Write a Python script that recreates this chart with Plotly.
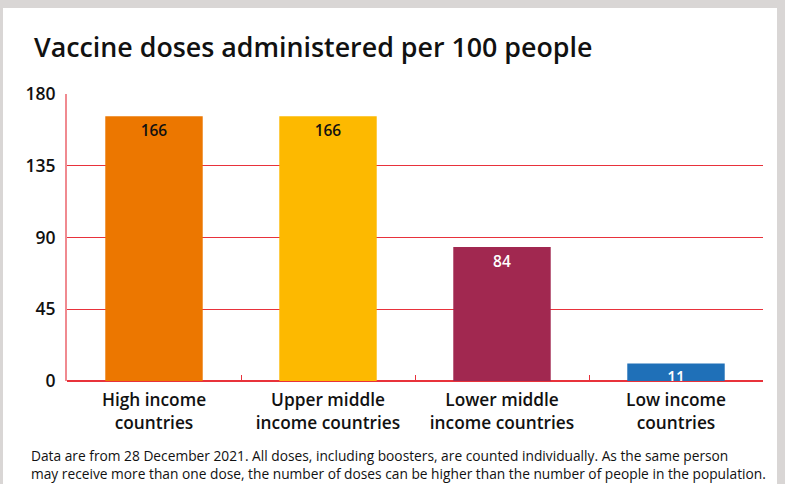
import plotly.graph_objects as go

categories = ["High income<br>countries", "Upper middle<br>income countries",
              "Lower middle<br>income countries", "Low income<br>countries"]
values = [166, 166, 84, 11]
colors = ["#EC7700", "#FDB900", "#A12850", "#1F70B8"]
label_colors = ["#111111", "#111111", "#FFFFFF", "#FFFFFF"]
y_ticks = [0, 45, 90, 135, 180]

title = "Vaccine doses administered per 100 people"
note = ("Data are from 28 December 2021. All doses, including boosters, are counted individually. As the same person<br>"
        "may receive more than one dose, the number of doses can be higher than the number of people in the population.")

RED = "#E8323B"
GRAY = "#D9D6D5"
FONT = "Open Sans"

L, R, T, B = 67, 22, 94, 103
PW, PH = 785 - L - R, 484 - T - B


def px(x):
    return (x - L) / PW


def py(y):
    return (484 - B - y) / PH


fig = go.Figure(go.Bar(
    x=categories, y=values, marker=dict(color=colors, line=dict(width=0)),
    text=[str(v) for v in values], textposition="inside", insidetextanchor="end",
    constraintext="none", textangle=0,
    textfont=dict(family=FONT, size=15.5, color=label_colors, weight=600),
    hoverinfo="skip", width=0.56,
))

strip = dict(type="rect", xref="paper", yref="paper", fillcolor=GRAY,
             line=dict(width=0), layer="above")
fig.update_layout(
    width=785, height=484,
    paper_bgcolor="white", plot_bgcolor="white",
    margin=dict(l=L, r=R, t=T, b=B),
    showlegend=False,
    font=dict(family=FONT, color="#111111"),
    shapes=[
        dict(strip, x0=px(0), x1=px(785), y0=py(0), y1=py(8)),
        dict(strip, x0=px(0), x1=px(3), y0=py(484), y1=py(0)),
        dict(strip, x0=px(777), x1=px(785), y0=py(484), y1=py(0)),
    ],
    annotations=[
        dict(text=title, xref="paper", yref="paper", x=px(32), y=py(46),
             xanchor="left", yanchor="middle", showarrow=False,
             font=dict(family=FONT, size=26.8, weight=600, color="#111111")),
        dict(text=note, xref="paper", yref="paper", x=px(29), y=py(464),
             xanchor="left", yanchor="middle", showarrow=False, align="left",
             font=dict(family=FONT, size=13.75, color="#111111")),
    ],
)

fig.update_xaxes(
    type="category", showline=False, showgrid=False, zeroline=False,
    ticks="inside", tickson="boundaries", ticklen=6, tickcolor=RED, tickwidth=1,
    ticklabelstandoff=7,
    tickfont=dict(family=FONT, size=17.3, weight=600, color="#111111"),
)
fig.update_yaxes(
    range=[0, 180], tickvals=y_ticks, showline=True, linecolor="#F08A90", linewidth=2,
    showgrid=True, gridcolor=RED, gridwidth=1, zeroline=True, zerolinecolor=RED,
    zerolinewidth=2, ticks="", ticklabelstandoff=6,
    tickfont=dict(family=FONT, size=17.5, weight=600, color="#111111"),
)

fig.write_html("out.html")
